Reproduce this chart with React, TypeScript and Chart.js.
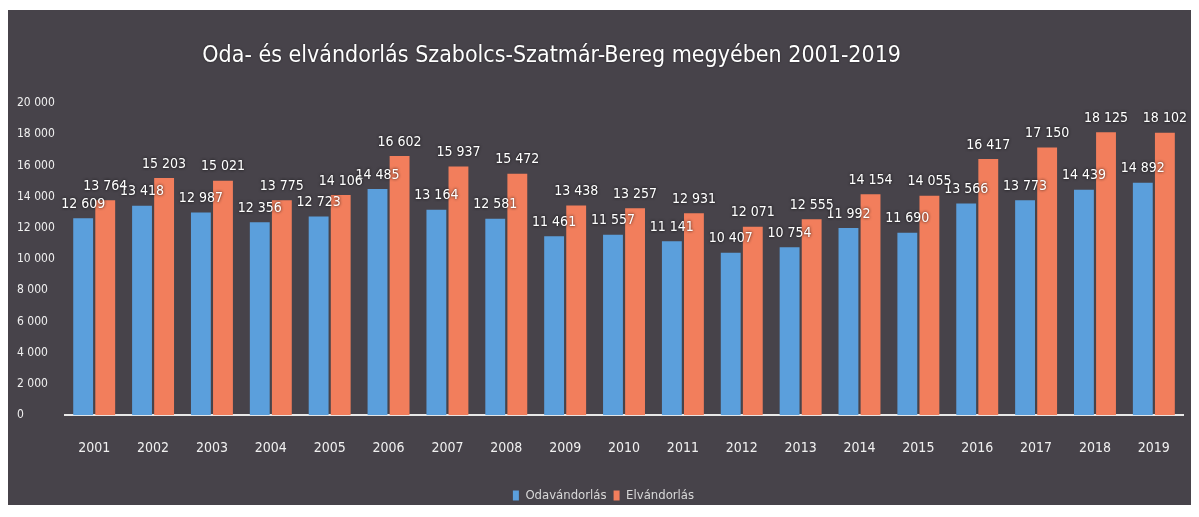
import React, { useEffect, useRef } from "react";
import { Chart, registerables } from "chart.js";

Chart.register(...registerables);

const years = ["2001","2002","2003","2004","2005","2006","2007","2008","2009","2010","2011","2012","2013","2014","2015","2016","2017","2018","2019"];
const odavandorlas = [12609,13418,12987,12356,12723,14485,13164,12581,11461,11557,11141,10407,10754,11992,11690,13566,13773,14439,14892];
const elvandorlas = [13764,15203,15021,13775,14106,16602,15937,15472,13438,13257,12931,12071,12555,14154,14055,16417,17150,18125,18102];
const yTicks = [0,2000,4000,6000,8000,10000,12000,14000,16000,18000,20000];
const titleText = "Oda- és elvándorlás Szabolcs-Szatmár-Bereg megyében 2001-2019";

const FONT = "'Liberation Sans Narrow', 'DejaVu Sans Condensed', 'Roboto Condensed', sans-serif";
const fmt = (v: number) => {
  const s = String(Math.round(v));
  return s.replace(/\B(?=(\d{3})+(?!\d))/g, " ");
};

const titlePlugin = {
  id: "customTitle",
  afterDraw(chart: any) {
    const ctx = chart.ctx;
    ctx.save();
    ctx.font = `23px ${FONT}`;
    ctx.fillStyle = "#ffffff";
    ctx.textAlign = "center";
    ctx.textBaseline = "middle";
    ctx.shadowColor = "rgba(0,0,0,0.6)";
    ctx.shadowBlur = 2;
    ctx.fillText(titleText, chart.width * 0.458, 46);
    ctx.restore();
  },
};

const labelPlugin = {
  id: "valueLabels",
  afterDatasetsDraw(chart: any) {
    const ctx = chart.ctx;
    ctx.save();
    ctx.font = `14px ${FONT}`;
    ctx.fillStyle = "#ffffff";
    ctx.textAlign = "center";
    ctx.textBaseline = "bottom";
    ctx.shadowColor = "rgba(0,0,0,0.9)";
    ctx.shadowBlur = 3;
    chart.data.datasets.forEach((ds: any, i: number) => {
      const meta = chart.getDatasetMeta(i);
      meta.data.forEach((el: any, j: number) => {
        ctx.fillText(fmt(ds.data[j]), el.x, el.y - 7);
      });
    });
    ctx.restore();
  },
};

export default function App() {
  const ref = useRef<HTMLCanvasElement | null>(null);
  useEffect(() => {
    if (!ref.current) return;
    const chart = new Chart(ref.current, {
      type: "bar",
      data: {
        labels: years,
        datasets: [
          { label: "Odavándorlás", data: odavandorlas, backgroundColor: "#5b9fdc", categoryPercentage: 0.75, barPercentage: 0.9 },
          { label: "Elvándorlás", data: elvandorlas, backgroundColor: "#f27e5c", categoryPercentage: 0.75, barPercentage: 0.9 },
        ],
      },
      options: {
        animation: false,
        responsive: false,
        maintainAspectRatio: false,
        layout: { padding: { top: 93, right: 5, left: 9, bottom: 0 } },
        plugins: {
          title: { display: false },
          tooltip: { enabled: false },
          legend: {
            position: "bottom",
            labels: {
              color: "#d8d8d8",
              font: { family: FONT, size: 13 },
              boxWidth: 6,
              boxHeight: 10,
              padding: 7,
            },
          },
        },
        scales: {
          x: {
            grid: { display: false, drawTicks: false },
            border: { display: true, color: "#e8e8e8", width: 2 },
            ticks: { color: "#f0f0f0", font: { family: FONT, size: 14 }, padding: 25 },
          },
          y: {
            min: 0,
            max: 20000,
            afterBuildTicks: (axis: any) => {
              axis.ticks = yTicks.map((v) => ({ value: v }));
            },
            grid: { display: false, drawTicks: false },
            border: { display: false },
            ticks: {
              color: "#f0f0f0",
              font: { family: FONT, size: 12 },
              crossAlign: "far",
              padding: 5,
              callback: (v: any) => fmt(Number(v)),
            },
          },
        },
      },
      plugins: [titlePlugin, labelPlugin],
    });
    return () => chart.destroy();
  }, []);
  return (
    <div style={{ width: 1187, height: 495, marginTop: 2, background: "#47434a", overflow: "hidden" }}>
      <canvas ref={ref} width={1187} height={502} style={{ display: "block" }} />
    </div>
  );
}
